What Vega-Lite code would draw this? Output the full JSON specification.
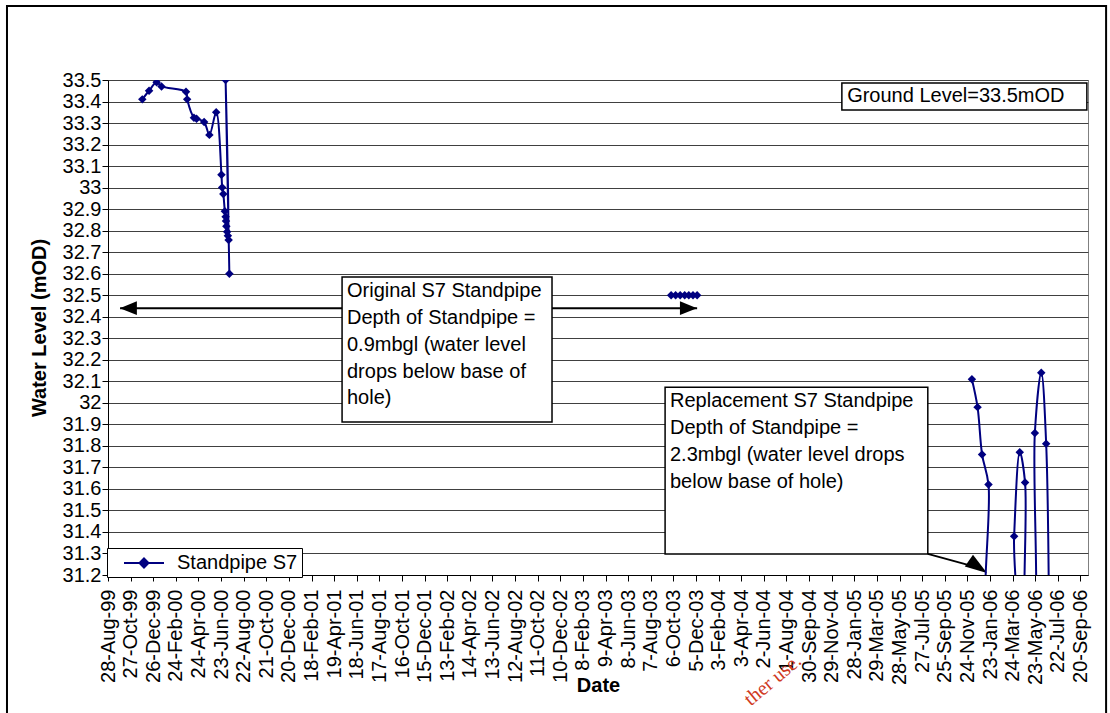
{
  "$schema": "https://vega.github.io/schema/vega-lite/v6.json",
  "width": 980,
  "height": 495,
  "autosize": "none",
  "padding": {"left": 108, "top": 80, "right": 22, "bottom": 138},
  "background": "white",
  "config": {
    "font": "Liberation Sans",
    "view": {"stroke": "#808080", "strokeWidth": 1},
    "axis": {
      "labelFont": "Liberation Sans",
      "titleFont": "Liberation Sans",
      "labelColor": "black",
      "titleColor": "black",
      "labelFontSize": 20,
      "titleFontSize": 20,
      "titleFontWeight": "bold",
      "domainColor": "black",
      "domainWidth": 1,
      "tickColor": "black",
      "tickSize": 6,
      "labelOverlap": false,
      "labelFlush": false
    }
  },
  "encoding": {
    "x": {
      "field": "date",
      "type": "temporal",
      "scale": {
        "type": "utc",
        "domain": [
          {"year": 1999, "month": 8, "date": 28, "utc": true},
          {"year": 2006, "month": 10, "date": 10, "utc": true}
        ]
      },
      "axis": {
        "title": "Date",
        "grid": false,
        "labelExpr": "utcFormat(datum.value, '%-d-%b-%y')",
        "labelAngle": -90,
        "labelPadding": 8,
        "titlePadding": -9,
        "values": [
          {"year": 1999, "month": 8, "date": 28, "utc": true},
          {"year": 1999, "month": 10, "date": 27, "utc": true},
          {"year": 1999, "month": 12, "date": 26, "utc": true},
          {"year": 2000, "month": 2, "date": 24, "utc": true},
          {"year": 2000, "month": 4, "date": 24, "utc": true},
          {"year": 2000, "month": 6, "date": 23, "utc": true},
          {"year": 2000, "month": 8, "date": 22, "utc": true},
          {"year": 2000, "month": 10, "date": 21, "utc": true},
          {"year": 2000, "month": 12, "date": 20, "utc": true},
          {"year": 2001, "month": 2, "date": 18, "utc": true},
          {"year": 2001, "month": 4, "date": 19, "utc": true},
          {"year": 2001, "month": 6, "date": 18, "utc": true},
          {"year": 2001, "month": 8, "date": 17, "utc": true},
          {"year": 2001, "month": 10, "date": 16, "utc": true},
          {"year": 2001, "month": 12, "date": 15, "utc": true},
          {"year": 2002, "month": 2, "date": 13, "utc": true},
          {"year": 2002, "month": 4, "date": 14, "utc": true},
          {"year": 2002, "month": 6, "date": 13, "utc": true},
          {"year": 2002, "month": 8, "date": 12, "utc": true},
          {"year": 2002, "month": 10, "date": 11, "utc": true},
          {"year": 2002, "month": 12, "date": 10, "utc": true},
          {"year": 2003, "month": 2, "date": 8, "utc": true},
          {"year": 2003, "month": 4, "date": 9, "utc": true},
          {"year": 2003, "month": 6, "date": 8, "utc": true},
          {"year": 2003, "month": 8, "date": 7, "utc": true},
          {"year": 2003, "month": 10, "date": 6, "utc": true},
          {"year": 2003, "month": 12, "date": 5, "utc": true},
          {"year": 2004, "month": 2, "date": 3, "utc": true},
          {"year": 2004, "month": 4, "date": 3, "utc": true},
          {"year": 2004, "month": 6, "date": 2, "utc": true},
          {"year": 2004, "month": 8, "date": 1, "utc": true},
          {"year": 2004, "month": 9, "date": 30, "utc": true},
          {"year": 2004, "month": 11, "date": 29, "utc": true},
          {"year": 2005, "month": 1, "date": 28, "utc": true},
          {"year": 2005, "month": 3, "date": 29, "utc": true},
          {"year": 2005, "month": 5, "date": 28, "utc": true},
          {"year": 2005, "month": 7, "date": 27, "utc": true},
          {"year": 2005, "month": 9, "date": 25, "utc": true},
          {"year": 2005, "month": 11, "date": 24, "utc": true},
          {"year": 2006, "month": 1, "date": 23, "utc": true},
          {"year": 2006, "month": 3, "date": 24, "utc": true},
          {"year": 2006, "month": 5, "date": 23, "utc": true},
          {"year": 2006, "month": 7, "date": 22, "utc": true},
          {"year": 2006, "month": 9, "date": 20, "utc": true}
        ]
      }
    },
    "y": {
      "field": "value",
      "type": "quantitative",
      "scale": {"domain": [31.2, 33.5], "zero": false, "nice": false},
      "axis": {
        "title": "Water Level (mOD)",
        "grid": true,
        "gridColor": "#404040",
        "gridWidth": 1,
        "format": ".1~f",
        "labelPadding": 1,
        "titlePadding": 13,
        "values": [31.2, 31.3, 31.4, 31.5, 31.6, 31.7, 31.8, 31.9, 32, 32.1, 32.2, 32.3, 32.4, 32.5, 32.6, 32.7, 32.8, 32.9, 33, 33.1, 33.2, 33.3, 33.4, 33.5]
      }
    }
  },
  "layer": [
    {
      "data": {"values": [{"date": "1998-12-03", "date2": "2006-11-27", "value": 33.844, "value2": 30.48}]},
      "mark": {"type": "rect", "fillOpacity": 0, "stroke": "black", "strokeWidth": 2},
      "encoding": {"x2": {"field": "date2"}, "y2": {"field": "value2"}}
    },
    {
      "data": {"values": [{"date": "1999-09-29", "date2": "2003-12-08", "value": 32.44}]},
      "mark": {"type": "rule", "color": "black", "strokeWidth": 2},
      "encoding": {"x2": {"field": "date2"}}
    },
    {
      "data": {"values": [{"date": "2003-11-15", "value": 32.44}]},
      "mark": {"type": "point", "shape": "M1,0L-1,-0.8L-1,0.8Z", "size": 289, "filled": true, "color": "black", "opacity": 1, "angle": 0}
    },
    {
      "data": {"values": [{"date": "1999-10-21", "value": 32.44}]},
      "mark": {"type": "point", "shape": "M1,0L-1,-0.8L-1,0.8Z", "size": 289, "filled": true, "color": "black", "opacity": 1, "angle": 180}
    },
    {
      "data": {"values": [
        {"date": "2001-05-10", "date2": "2002-11-18", "value": 32.585, "value2": 31.911},
        {"date": "2004-12-26", "date2": "2006-10-07", "value": 33.486, "value2": 33.361},
        {"date": "2003-09-14", "date2": "2005-08-11", "value": 32.072, "value2": 31.298}
      ]},
      "mark": {"type": "rect", "fill": "white", "stroke": "black", "strokeWidth": 1.5},
      "encoding": {"x2": {"field": "date2"}, "y2": {"field": "value2"}}
    },
    {
      "data": {"values": [
        {"date": "2001-05-23", "value": 32.52, "label": "Original S7 Standpipe"},
        {"date": "2001-05-23", "value": 32.394, "label": "Depth of Standpipe ="},
        {"date": "2001-05-23", "value": 32.269, "label": "0.9mbgl (water level"},
        {"date": "2001-05-23", "value": 32.145, "label": "drops below base of"},
        {"date": "2001-05-23", "value": 32.022, "label": "hole)"},
        {"date": "2005-01-09", "value": 33.426, "label": "Ground Level=33.5mOD"},
        {"date": "2003-09-27", "value": 32.01, "label": "Replacement S7 Standpipe"},
        {"date": "2003-09-27", "value": 31.8815, "label": "Depth of Standpipe ="},
        {"date": "2003-09-27", "value": 31.757, "label": "2.3mbgl (water level drops"},
        {"date": "2003-09-27", "value": 31.634, "label": "below base of hole)"}
      ]},
      "mark": {"type": "text", "align": "left", "baseline": "middle", "font": "Liberation Sans", "fontSize": 20, "color": "black"},
      "encoding": {"text": {"field": "label"}}
    },
    {
      "data": {"values": [{"date": "2005-08-11", "date2": "2005-12-27", "value": 31.298, "value2": 31.232}]},
      "mark": {"type": "rule", "color": "black", "strokeWidth": 2},
      "encoding": {"x2": {"field": "date2"}, "y2": {"field": "value2"}}
    },
    {
      "data": {"values": [{"date": "2005-12-22", "value": 31.238}]},
      "mark": {"type": "point", "shape": "M1,0L-1,-0.65L-1,0.65Z", "size": 484, "filled": true, "color": "black", "opacity": 1, "angle": 34.8}
    },
    {
      "data": {"name": "series"},
      "mark": {"type": "line", "strokeWidth": 2, "interpolate": "catmull-rom", "clip": true},
      "encoding": {
        "color": {
          "field": "series",
          "type": "nominal",
          "scale": {"range": ["#000080"]},
          "legend": {
            "orient": "none",
            "legendX": -1,
            "legendY": 468,
            "title": null,
            "symbolType": "M-2,0H2M0,-0.45L0.45,0L0,0.45L-0.45,0Z",
            "symbolSize": 400,
            "symbolStrokeWidth": 2,
            "symbolFillColor": "#000080",
            "symbolStrokeColor": "#000080",
            "labelFontSize": 20,
            "labelFont": "Liberation Sans",
            "labelColor": "black",
            "padding": 4,
            "symbolOffset": 22,
            "labelOffset": 22,
            "strokeColor": "black",
            "fillColor": "white"
          }
        },
        "detail": {"field": "segment"},
        "order": {"field": "seq"}
      }
    },
    {
      "data": {"name": "series"},
      "mark": {"type": "point", "shape": "diamond", "filled": true, "size": 72, "opacity": 1, "clip": true},
      "encoding": {
        "color": {"field": "series", "type": "nominal", "scale": {"range": ["#000080"]}}
      }
    },
    {
      "data": {"values": [{"date": "2004-06-26", "value": 30.712, "label": "ther use."}]},
      "mark": {"type": "text", "align": "center", "baseline": "middle", "font": "Liberation Serif", "fontSize": 20, "color": "#d03a1e", "angle": 320},
      "encoding": {"text": {"field": "label"}}
    }
  ],
  "datasets": {
    "series": [
      {"seq": 1, "segment": 1, "series": "Standpipe S7", "date": "1999-11-27", "value": 33.41},
      {"seq": 2, "segment": 1, "series": "Standpipe S7", "date": "1999-12-15", "value": 33.45},
      {"seq": 3, "segment": 1, "series": "Standpipe S7", "date": "2000-01-04", "value": 33.49},
      {"seq": 4, "segment": 1, "series": "Standpipe S7", "date": "2000-01-17", "value": 33.47},
      {"seq": 5, "segment": 1, "series": "Standpipe S7", "date": "2000-03-22", "value": 33.445},
      {"seq": 6, "segment": 1, "series": "Standpipe S7", "date": "2000-03-25", "value": 33.41},
      {"seq": 7, "segment": 1, "series": "Standpipe S7", "date": "2000-04-12", "value": 33.325},
      {"seq": 8, "segment": 1, "series": "Standpipe S7", "date": "2000-04-19", "value": 33.32},
      {"seq": 9, "segment": 1, "series": "Standpipe S7", "date": "2000-05-09", "value": 33.305},
      {"seq": 10, "segment": 1, "series": "Standpipe S7", "date": "2000-05-23", "value": 33.245},
      {"seq": 11, "segment": 1, "series": "Standpipe S7", "date": "2000-06-10", "value": 33.35},
      {"seq": 12, "segment": 1, "series": "Standpipe S7", "date": "2000-06-24", "value": 33.06},
      {"seq": 13, "segment": 1, "series": "Standpipe S7", "date": "2000-06-26", "value": 33.0},
      {"seq": 14, "segment": 1, "series": "Standpipe S7", "date": "2000-06-29", "value": 32.97},
      {"seq": 15, "segment": 1, "series": "Standpipe S7", "date": "2000-07-03", "value": 32.89},
      {"seq": 16, "segment": 1, "series": "Standpipe S7", "date": "2000-07-05", "value": 32.865},
      {"seq": 17, "segment": 1, "series": "Standpipe S7", "date": "2000-07-06", "value": 32.845},
      {"seq": 18, "segment": 1, "series": "Standpipe S7", "date": "2000-07-07", "value": 32.82},
      {"seq": 19, "segment": 1, "series": "Standpipe S7", "date": "2000-07-09", "value": 32.795},
      {"seq": 20, "segment": 1, "series": "Standpipe S7", "date": "2000-07-11", "value": 32.776},
      {"seq": 21, "segment": 1, "series": "Standpipe S7", "date": "2000-07-13", "value": 32.757},
      {"seq": 22, "segment": 1, "series": "Standpipe S7", "date": "2000-07-05", "value": 33.5},
      {"seq": 23, "segment": 1, "series": "Standpipe S7", "date": "2000-07-15", "value": 32.6},
      {"seq": 24, "segment": 2, "series": "Standpipe S7", "date": "2003-09-30", "value": 32.5},
      {"seq": 25, "segment": 2, "series": "Standpipe S7", "date": "2003-10-12", "value": 32.5},
      {"seq": 26, "segment": 2, "series": "Standpipe S7", "date": "2003-10-24", "value": 32.5},
      {"seq": 27, "segment": 2, "series": "Standpipe S7", "date": "2003-11-05", "value": 32.5},
      {"seq": 28, "segment": 2, "series": "Standpipe S7", "date": "2003-11-16", "value": 32.5},
      {"seq": 29, "segment": 2, "series": "Standpipe S7", "date": "2003-11-27", "value": 32.5},
      {"seq": 30, "segment": 2, "series": "Standpipe S7", "date": "2003-12-08", "value": 32.5},
      {"seq": 31, "segment": 3, "series": "Standpipe S7", "date": "2005-12-06", "value": 32.11},
      {"seq": 32, "segment": 3, "series": "Standpipe S7", "date": "2005-12-21", "value": 31.98},
      {"seq": 33, "segment": 3, "series": "Standpipe S7", "date": "2006-01-02", "value": 31.76},
      {"seq": 34, "segment": 3, "series": "Standpipe S7", "date": "2006-01-19", "value": 31.62},
      {"seq": 35, "segment": 3, "series": "Standpipe S7", "date": "2006-01-26", "value": 30.9},
      {"seq": 36, "segment": 3, "series": "Standpipe S7", "date": "2006-03-22", "value": 30.9},
      {"seq": 37, "segment": 3, "series": "Standpipe S7", "date": "2006-03-28", "value": 31.38},
      {"seq": 38, "segment": 3, "series": "Standpipe S7", "date": "2006-04-12", "value": 31.77},
      {"seq": 39, "segment": 3, "series": "Standpipe S7", "date": "2006-04-26", "value": 31.63},
      {"seq": 40, "segment": 3, "series": "Standpipe S7", "date": "2006-05-03", "value": 30.9},
      {"seq": 41, "segment": 3, "series": "Standpipe S7", "date": "2006-05-15", "value": 30.9},
      {"seq": 42, "segment": 3, "series": "Standpipe S7", "date": "2006-05-22", "value": 31.86},
      {"seq": 43, "segment": 3, "series": "Standpipe S7", "date": "2006-06-08", "value": 32.14},
      {"seq": 44, "segment": 3, "series": "Standpipe S7", "date": "2006-06-21", "value": 31.81},
      {"seq": 45, "segment": 3, "series": "Standpipe S7", "date": "2006-06-29", "value": 30.9}
    ]
  }
}
